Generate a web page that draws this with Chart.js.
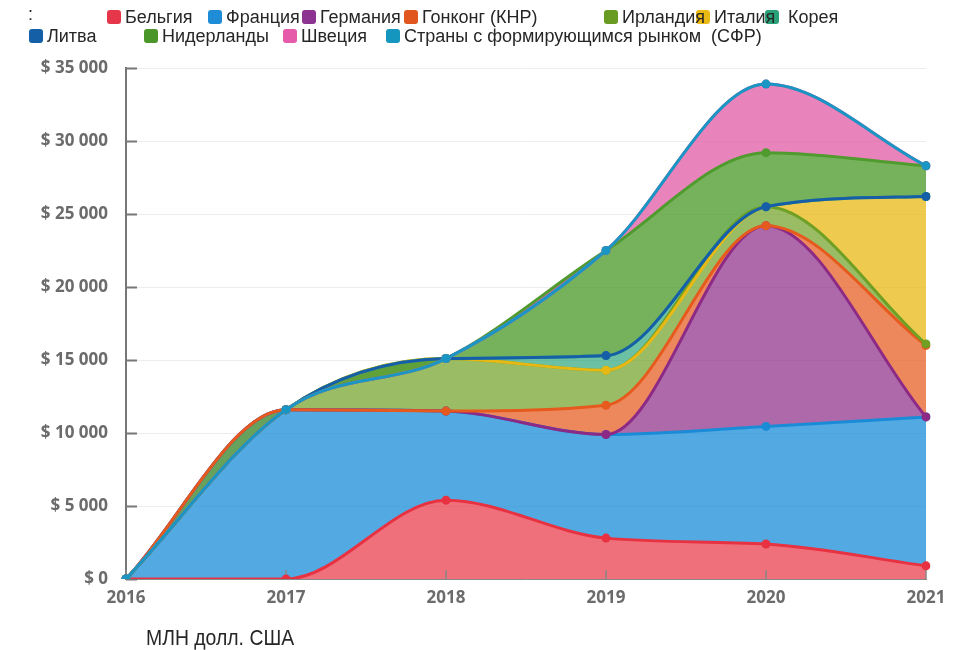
<!DOCTYPE html>
<html>
<head>
<meta charset="utf-8">
<script src="https://cdn.jsdelivr.net/npm/chart.js@4.4.1/dist/chart.umd.min.js"></script>
<style>
html,body{margin:0;padding:0;background:#fff;}
#wrap{position:relative;width:964px;height:650px;overflow:hidden;background:#fff;}
#c{position:absolute;left:0;top:0;}
.box{position:absolute;width:14px;height:14px;border-radius:3px;}
.lt{position:absolute;height:18px;font-family:"Liberation Sans",Arial,sans-serif;font-size:18px;line-height:18px;color:#262626;white-space:pre;}
#colon{position:absolute;left:28px;top:5px;font-family:"Liberation Sans",Arial,sans-serif;font-size:18px;line-height:18px;color:#262626;}
#unit{position:absolute;left:146px;top:627px;font-family:"Liberation Sans",Arial,sans-serif;font-size:20px;line-height:20px;color:#262626;transform:scale(0.97,1.12);transform-origin:left center;white-space:pre;}
</style>
</head>
<body>
<div id="wrap">
  <canvas id="c" width="964" height="650"></canvas>
  <div id="colon">:</div>
  <div id="legendBoxes"></div>
  <div id="legendText"></div>
  <div id="unit">МЛН долл. США</div>
</div>
<script>
// ---- data ----
const years = ['2016', '2017', '2018', '2019', '2020', '2021'];
const seriesNames = ['Бельгия', 'Франция', 'Германия', 'Гонконг (КНР)', 'Ирландия', 'Италия', 'Корея', 'Литва', 'Нидерланды', 'Швеция', 'Страны с формирующимся рынком  (СФР)'];
const belgium     = [0, 0, 5400, 2800, 2400, 900];
const france      = [0, 11600, 6100, 7100, 8050, 10200];
const germany     = [0, 0, 0, 0, 13750, 0];
const hongKong    = [0, 0, 0, 2000, 0, 4900];
const ireland     = [0, 0, 3600, 2400, 1300, 100];
const italy       = [0, 0, 0, 0, 0, 10100];
const korea       = [0, 0, 0, 1000, 0, 0];
const lithuania   = [0, 0, 0, 0, 0, 0];
const netherlands = [0, 0, 0, 7200, 3700, 2100];
const sweden      = [0, 0, 0, 0, 4700, 0];
const emerging    = [0, 0, 0, 0, 0, 0];
const yTicks = [0, 5000, 10000, 15000, 20000, 25000, 30000, 35000];

// ---- styles ----
const lineColors = ['#e83241','#1a8cd7','#8c2a86','#e65a1e','#6f9f23','#e8b914','#2da57d','#165fa8','#4f9b2d','#e05aa6','#1996c3'];
const fillAlpha  = [0.70,0.75,0.70,0.72,0.70,0.75,0.70,0.75,0.78,0.75,0.75];
const legendColors = ['#e6374a','#1e8cd7','#8c3290','#e1551e','#699b23','#ebb914','#28a078','#145fa5','#4b9628','#e65aaa','#1496be'];
const legendPos = [[107,9],[208,9],[302,9],[404,9],[604,9],[696,9],[765,9],[29,28],[144,28],[283,28],[386,28]];
const legendLabel = ['Бельгия','Франция','Германия','Гонконг (КНР)','Ирландия','Италия',' Корея','Литва','Нидерланды','Швеция','Страны с формирующимся рынком  (СФР)'];

function rgba(hex, a){
  const n = parseInt(hex.slice(1),16);
  return 'rgba(' + ((n>>16)&255) + ',' + ((n>>8)&255) + ',' + (n&255) + ',' + a + ')';
}

const seriesValues = [belgium, france, germany, hongKong, ireland, italy, korea, lithuania, netherlands, sweden, emerging];

// cumulative (stacked) values
const running = years.map(() => 0);
const datasets = seriesValues.map((vals, i) => {
  const cum = vals.map((v, k) => (running[k] += v));
  return {
    label: seriesNames[i],
    data: cum,
    borderColor: lineColors[i],
    backgroundColor: rgba(lineColors[i], fillAlpha[i]),
    pointBackgroundColor: lineColors[i],
    pointBorderColor: lineColors[i],
    pointBorderWidth: 0,
    pointRadius: 4.5,
    borderWidth: 3,
    cubicInterpolationMode: 'monotone',
    fill: i === 0 ? 'origin' : '-1',
    order: -i
  };
});

// legend (boxes below text, as in the reference)
const lb = document.getElementById('legendBoxes');
const lt = document.getElementById('legendText');
legendLabel.forEach((t, i) => {
  const b = document.createElement('div');
  b.className = 'box';
  b.style.left = legendPos[i][0] + 'px';
  b.style.top = (legendPos[i][1] + 1) + 'px';
  b.style.background = legendColors[i];
  lb.appendChild(b);
  const s = document.createElement('div');
  s.className = 'lt';
  s.style.left = (legendPos[i][0] + 18) + 'px';
  s.style.top = (legendPos[i][1] - 1) + 'px';
  s.textContent = t;
  lt.appendChild(s);
});

function fmt(v){
  return '$ ' + String(v).replace(/\B(?=(\d{3})+(?!\d))/g, ' ');
}

const innerTicks = {
  id: 'innerTicks',
  beforeDatasetsDraw(chart){
    const {ctx, chartArea: a, scales: {x, y}} = chart;
    ctx.save();
    ctx.strokeStyle = '#777';
    ctx.lineWidth = 2;
    y.ticks.forEach((t, i) => {
      const py = Math.round(y.getPixelForTick(i)) + 0.5;
      ctx.beginPath(); ctx.moveTo(a.left, py); ctx.lineTo(a.left + 11, py); ctx.stroke();
    });
    ctx.lineWidth = 1.5;
    ctx.strokeStyle = '#888';
    x.ticks.forEach((t, i) => {
      const px = x.getPixelForTick(i);
      ctx.beginPath(); ctx.moveTo(px, a.bottom); ctx.lineTo(px, a.bottom - 9); ctx.stroke();
    });
    ctx.restore();
  }
};

const tickFont = {family: '"Open Sans", "DejaVu Sans", sans-serif', size: 17, weight: 'bold'};

new Chart(document.getElementById('c'), {
  type: 'line',
  data: {labels: years, datasets: datasets},
  plugins: [innerTicks],
  options: {
    responsive: false,
    animation: false,
    devicePixelRatio: 1,
    layout: {padding: {left: 0, right: 38, top: 68, bottom: 0}},
    plugins: {
      legend: {display: false},
      tooltip: {enabled: false},
      filler: {drawTime: 'beforeDatasetsDraw'}
    },
    scales: {
      x: {
        type: 'category',
        offset: false,
        grid: {display: false, drawTicks: false},
        border: {display: true, color: '#888', width: 1},
        ticks: {padding: 9, color: '#6b6b6b', font: tickFont, maxRotation: 0, autoSkip: false},
        afterFit(s){ s.height = 71; }
      },
      y: {
        min: yTicks[0],
        max: yTicks[yTicks.length - 1],
        afterBuildTicks(s){ s.ticks = yTicks.map(v => ({value: v})); },
        grid: {color: '#ececec', lineWidth: 1, drawTicks: false},
        border: {display: true, color: '#777', width: 2},
        ticks: {padding: 18, color: '#6b6b6b', font: tickFont, callback: v => fmt(v)},
        afterFit(s){ s.width = 126; }
      }
    }
  }
});
</script>
</body>
</html>
